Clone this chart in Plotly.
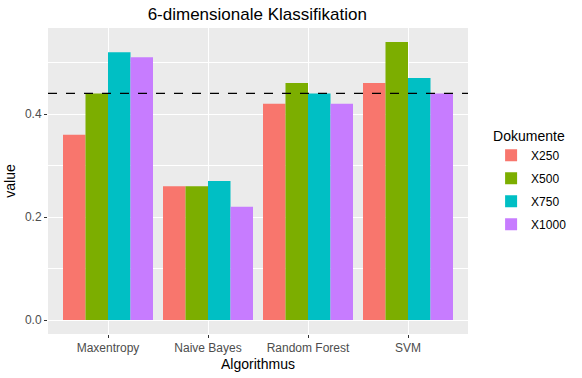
import plotly.graph_objects as go

algorithms = ["Maxentropy", "Naive Bayes", "Random Forest", "SVM"]
series_names = ["X250", "X500", "X750", "X1000"]
x250 = [0.36, 0.26, 0.42, 0.46]
x500 = [0.44, 0.26, 0.46, 0.54]
x750 = [0.52, 0.27, 0.44, 0.47]
x1000 = [0.51, 0.22, 0.42, 0.44]
baseline = 0.44
colors = ["#F8766D", "#7CAE00", "#00BFC4", "#C77CFF"]

fig = go.Figure()
for name, vals, c in zip(series_names, [x250, x500, x750, x1000], colors):
    fig.add_trace(go.Bar(x=algorithms, y=vals, name=name, legendgroup=name,
                         marker=dict(color=c, line=dict(width=0))))

fig.add_hline(y=baseline, line=dict(color="black", dash="dash", width=1.2))

fig.update_layout(
    width=582, height=378,
    barmode="group", bargap=0.1, bargroupgap=0,
    paper_bgcolor="white", plot_bgcolor="#EBEBEB",
    margin=dict(l=48, r=114, t=28, b=44, autoexpand=False),
    font=dict(family="Liberation Sans, Arial, sans-serif", color="black"),
    title=dict(text="6-dimensionale Klassifikation", x=0.442, xanchor="center", y=0.963, yanchor="middle",
               font=dict(size=17, color="black")),
    legend=dict(title=dict(text="Dokumente", font=dict(size=14)), font=dict(size=12),
                x=1.055, xanchor="left", y=0.5, yanchor="middle", tracegroupgap=4,
                itemwidth=30),
    xaxis=dict(title=dict(text="Algorithmus", font=dict(size=14), standoff=4),
               tickfont=dict(size=12, color="#4D4D4D"), showgrid=True, gridcolor="white", gridwidth=1.3,
               ticks="outside", ticklen=3, tickcolor="#333333", range=[-0.6, 3.6], zeroline=False,
               automargin=False),
    yaxis=dict(title=dict(text="value", font=dict(size=14), standoff=6),
               tickfont=dict(size=12, color="#4D4D4D"), range=[-0.027, 0.567],
               tickvals=[0, 0.2, 0.4], ticktext=["0.0", "0.2", "0.4"],
               showgrid=True, gridcolor="white", gridwidth=1.3,
               minor=dict(tickvals=[0.1, 0.3, 0.5], showgrid=True, gridcolor="white", gridwidth=0.6),
               ticks="outside", ticklen=3, tickcolor="#333333", zeroline=False,
               automargin=False),
)

fig.write_html("out.html", config={"displayModeBar": False},
               post_script="document.body.style.margin='0';")
